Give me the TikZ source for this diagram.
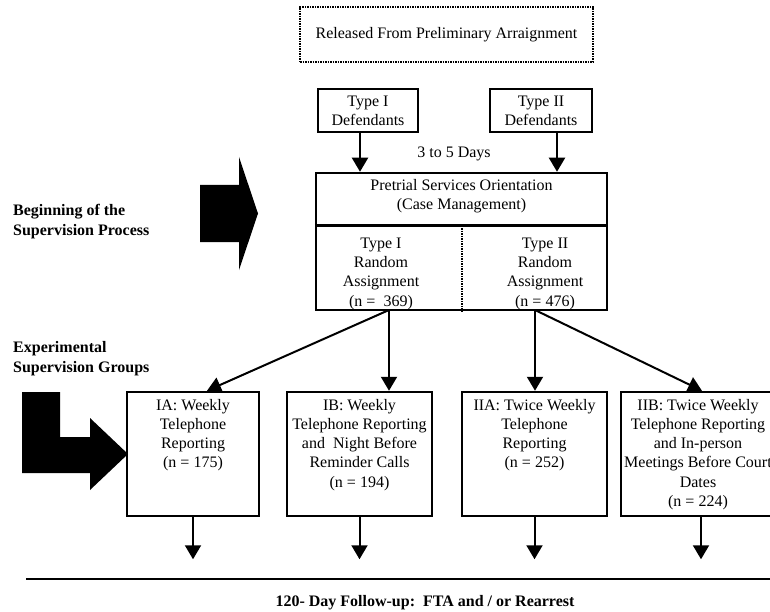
\documentclass[tikz,border=0pt]{standalone}
\usepackage{fontspec}
\setmainfont{Liberation Serif}
\usetikzlibrary{arrows.meta,positioning}

\begin{document}
\begin{tikzpicture}[x=1pt,y=-1pt,
        every node/.style={font=\fontsize{16}{19.3}\selectfont, inner sep=0pt},
        box/.style={draw, rectangle, line width=2.5pt},
        dotline/.style={dash pattern=on 1.5pt off 1pt, line width=2pt},
        flow/.style={-{Triangle[width=16pt,length=14pt]}, line width=2pt},
        side/.style={font=\fontsize{16}{20}\selectfont\bfseries, align=left, anchor=north west}]
        \useasboundingbox (0,0) rectangle (770,612);

        % release
        \node[box, dotline, minimum width=293pt, minimum height=55pt] (release) at (446.5,34.5) {Released From Preliminary Arraignment};

        % defendants
        \node[box, align=center, minimum width=100pt, minimum height=43pt] (type1) at (368,110.5) {Type I\\Defendants};
        \node[box, align=center, minimum width=102pt, minimum height=43pt] (type2) at (541,110.5) {Type II\\Defendants};
        \node[anchor=base] (days) at (454,158) {3 to 5 Days};

        % orientation
        \node[box, minimum width=291pt, minimum height=137pt] (orient) at (461.5,241.5) {};
        \draw[line width=2.5pt] ([yshift=-54pt]orient.north west) -- ([yshift=-54pt]orient.north east);
        \draw[dotline] ([yshift=-54pt]orient.north) -- (orient.south);
        \node[anchor=north, align=center] (orient-t) at (461.5,179) {Pretrial Services Orientation\\(Case Management)};
        \node[anchor=north, align=center] (assign1) at (381,237.5) {Type I\\Random\\Assignment\\(n =\ \ 369)};
        \node[anchor=north, align=center] (assign2) at (545,237.5) {Type II\\Random\\Assignment\\(n = 476)};

        \draw[flow] ([xshift=-8pt]type1.south) -- ([xshift=-8pt]type1.south |- orient.north);
        \draw[flow] ([xshift=16pt]type2.south) -- ([xshift=16pt]type2.south |- orient.north);

        % side labels
        \node[side] (begin) at (13,204) {Beginning of the\\Supervision Process};
        \node[side] (expgroups) at (13,341) {Experimental\\Supervision Groups};
        \fill (200,185) -- (239,185) -- (239,157) -- (258,213.5) -- (239,270) -- (239,242) -- (200,242) -- cycle;
        \fill (22,392) -- (60,392) -- (60,437) -- (90,437) -- (90,418) -- (128,454) -- (90,490) -- (90,473) -- (22,473) -- cycle;

        % groups
        \node[box, minimum width=132pt, minimum height=124pt] (ia) at (193,454) {};
        \node[box, minimum width=145pt, minimum height=124pt] (ib) at (359.5,454) {};
        \node[box, minimum width=145pt, minimum height=124pt] (iia) at (534.5,454) {};
        \node[box, minimum width=154pt, minimum height=124pt] (iib) at (698,454) {};

        \node[below=8pt of ia.north, align=center] (ia-t) {IA: Weekly\\Telephone\\Reporting\\(n = 175)};
        \node[below=8pt of ib.north, align=center] (ib-t) {IB: Weekly\\Telephone Reporting\\and\ \ Night Before\\Reminder Calls\\(n = 194)};
        \node[below=8pt of iia.north, align=center] (iia-t) {IIA: Twice Weekly\\Telephone\\Reporting\\(n = 252)};
        \node[below=8pt of iib.north, align=center] (iib-t) {IIB: Twice Weekly\\Telephone Reporting\\and In-person\\Meetings Before Court\\Dates\\(n = 224)};

        % assignment
        \coordinate (out1) at (389,310);
        \coordinate (out2) at (535,310);
        \draw[flow] (out1) -- ([xshift=14pt]ia.north);
        \draw[flow] (out1) -- (out1 |- ib.north);
        \draw[flow] (out2) -- (out2 |- iia.north);
        \draw[flow] (out2) -- ([xshift=4pt]iib.north);

        % follow-up
        \draw[flow] (ia.south) -- ++(0,42);
        \draw[flow] (ib.south) -- ++(0,42);
        \draw[flow] (iia.south) -- ++(0,42);
        \draw[flow] ([xshift=3pt]iib.south) -- ++(0,42);
        \coordinate (rule-l) at (26,579);
        \coordinate (rule-r) at (772,579);
        \draw[line width=2.5pt] (rule-l) -- (rule-r);
        \node[anchor=base, font=\fontsize{16}{19.3}\selectfont\bfseries] (follow) at (425,606) {120- Day Follow-up:\ \ FTA and / or Rearrest};
    \end{tikzpicture}
\end{document}
